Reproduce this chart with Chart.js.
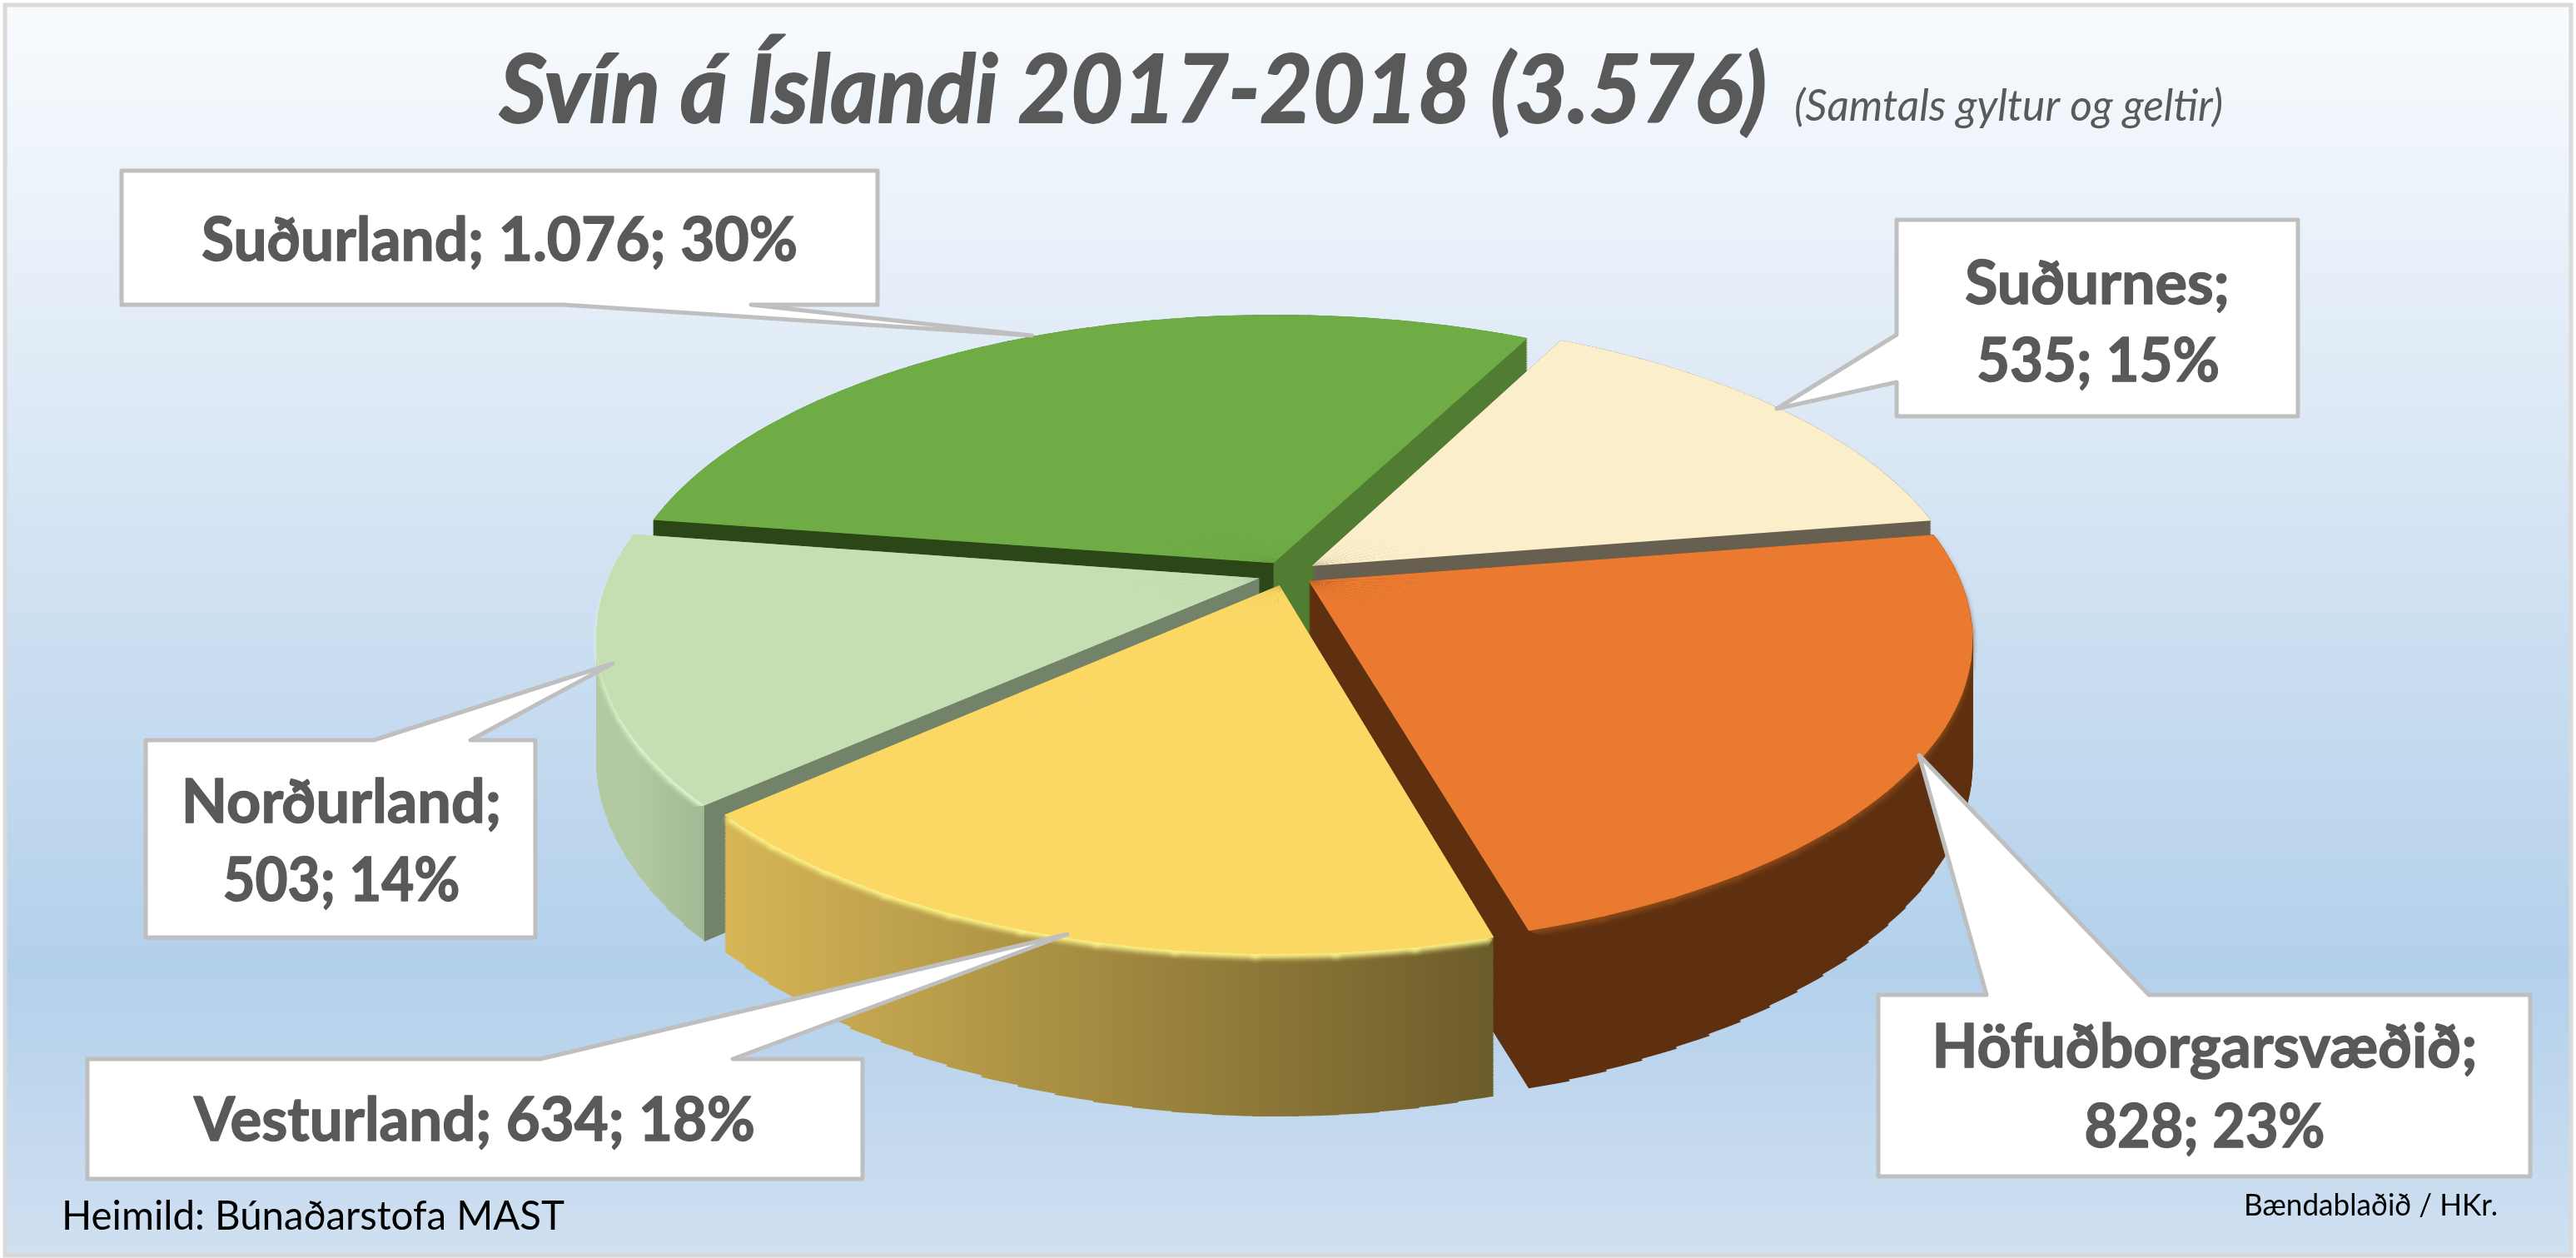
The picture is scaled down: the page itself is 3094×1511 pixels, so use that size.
<!DOCTYPE html>
<html><head><meta charset="utf-8">
<style>
html,body{margin:0;padding:0;background:#fff;width:3094px;height:1511px;overflow:hidden}
#wrap{position:absolute;left:0;top:0;width:3094px;height:1511px}
canvas{position:absolute;left:0;top:0}
</style>
<script src="https://cdn.jsdelivr.net/npm/chart.js@4/dist/chart.umd.min.js"></script>
</head><body>
<div id="wrap"><canvas id="c" width="3094" height="1511"></canvas></div>
<script>
// ---- data ----
const categories = ['Suðurnes','Höfuðborgarsvæðið','Vesturland','Norðurland','Suðurland'];
const values     = [535, 828, 634, 503, 1076];
const percents   = [15, 23, 18, 14, 30];
const explode    = [36, 30, 28, 32, 32];
const titleText  = 'Svín á Íslandi 2017-2018 (3.576)';
const subtitleText = '(Samtals gyltur og geltir)';
const sourceText = 'Heimild: Búnaðarstofa MAST';
const creditText = 'Bændablaðið / HKr.';

// ---- styling ----
const faceColors = ['#FBEECA','#EA7A30','#FBD764','#C5DEB2','#6FAC46'];
const wallStops  = [['#676050','#676050'],['#5F3010','#5F3010'],['#D6B656','#6C5C2A'],['#B2C9A2','#A2BA93'],['#507D31','#507D31']];
const cutFace    = [null,null,null,'#72836A','#2B4718'];
const rimColors  = [null,'#8A4A1A','#FFF78C','#E8FCD8',null];
const drawOrder  = [4,0,3,1,2];
const view = {x0:1545,y0:690,a:780,b:357,p:0.182,depthBase:150,depthFront:45,rotation:27,faceStepDeg:6,wallStepDeg:3};

const callouts = [
 {box:[2278,264,2760,500],side:'left',notch:[402,459],tip:[2134,491],lines:[[2519,365,322],[2520,458,292]],split:true},
 {box:[2256,1195,3039,1413],side:'top',notch:[2386,2581],tip:[2305,907],lines:[[2648,1282,655],[2648,1378,289]],split:true},
 {box:[105,1272,1036,1416],side:'top',notch:[649,880],tip:[1282,1122],lines:[[570,1370,674]],split:false},
 {box:[175,889,643,1126],side:'top',notch:[449,565],tip:[736,797],lines:[[410,988,386],[410,1082,285]],split:true},
 {box:[146,205,1054,366],side:'bottom',notch:[677,902],tip:[1239,403],lines:[[600,313,716]],split:false}
];

function project(u,v){
  const w = 1 - view.p*v;
  return [view.x0 + view.a*u/w, view.y0 + view.b*v/w];
}
function depthAt(angle){
  const v=Math.max(0,Math.sin(angle));
  return view.depthBase + view.depthFront*v*v*v;
}
function fmt(n){ return String(n).replace(/\B(?=(\d{3})+(?!\d))/g,'.'); }

const plainOptions = color => ({backgroundColor:color,offset:0,spacing:0,borderWidth:0,borderColor:'transparent',
    borderAlign:'center',borderRadius:0,circular:true,borderDash:[],borderDashOffset:0,borderJoinStyle:'round'});

// Draws the library's arc element as narrow wedges, each with its own affine
// approximation of the perspective view; f is how far down the wall this layer sits.
function drawSlice(arc,ctx,i,color,f,extraDy){
  const o=arc.options, S=arc.startAngle, E=arc.endAngle, C=arc.circumference, R=arc.outerRadius;
  const m=(S+E)/2, off=explode[i]/R, ou=off*Math.cos(m), ov=off*Math.sin(m);
  const Q0=project(ou,ov);
  const step=(f>0?view.wallStepDeg:view.faceStepDeg)*Math.PI/180, n=Math.ceil((E-S)/step), da=(E-S)/n, pad=0.004;
  arc.options=plainOptions(color);
  for(let k=0;k<n;k++){
    const a1=S+k*da, a2=S+(k+1)*da;
    const Q1=project(ou+Math.cos(a1),ov+Math.sin(a1));
    const Q2=project(ou+Math.cos(a2),ov+Math.sin(a2));
    const ax=R*Math.cos(a1), ay=R*Math.sin(a1), bx=R*Math.cos(a2), by=R*Math.sin(a2);
    const det=ax*by-bx*ay;
    const qax=Q1[0]-Q0[0], qay=Q1[1]-Q0[1], qbx=Q2[0]-Q0[0], qby=Q2[1]-Q0[1];
    const m11=(qax*by-qbx*ay)/det, m12=(qbx*ax-qax*bx)/det;
    const m21=(qay*by-qby*ay)/det, m22=(qby*ax-qay*bx)/det;
    const tx=Q0[0]-m11*arc.x-m12*arc.y, ty=Q0[1]-m21*arc.x-m22*arc.y;
    ctx.save();
    ctx.translate(0,f*depthAt((a1+a2)/2)+(extraDy||0));
    ctx.transform(m11,m21,m12,m22,tx,ty);
    arc.startAngle=k===0?a1:a1-pad;
    arc.endAngle=k===n-1?a2:a2+pad;
    arc.circumference=arc.endAngle-arc.startAngle;
    arc.draw(ctx);
    ctx.restore();
  }
  arc.startAngle=S;arc.endAngle=E;arc.circumference=C;arc.options=o;
}

function sliceGeometry(arc,i){
  const R=arc.outerRadius, s=arc.startAngle, e=arc.endAngle, m=(s+e)/2;
  const off=explode[i]/R, ou=off*Math.cos(m), ov=off*Math.sin(m);
  return {Q0:project(ou,ov),Q1:project(ou+Math.cos(s),ov+Math.sin(s)),Q2:project(ou+Math.cos(e),ov+Math.sin(e)),
          depthS:depthAt(s),depthA:depthAt(m),m};
}

function heavyText(ctx,s,x,y,w,extra){
  ctx.fillText(s,x,y,w);
  if(extra){ctx.lineWidth=extra;ctx.lineJoin='round';ctx.strokeStyle=ctx.fillStyle;ctx.strokeText(s,x,y,w);}
}

const piePlugin = {
  id:'pie3d',
  beforeDraw(chart){
    const ctx=chart.ctx, W=chart.width, H=chart.height;
    const g=ctx.createLinearGradient(0,9,0,1506);
    g.addColorStop(0,'#F8FBFE');
    g.addColorStop(0.3,'#DFEAF6');
    g.addColorStop(0.77,'#B3D0EB');
    g.addColorStop(1,'#D0E0F1');
    ctx.save();
    ctx.fillStyle='#fff';ctx.fillRect(0,0,W,H);
    ctx.fillStyle=g;ctx.fillRect(6,6,W-12,H-11);
    ctx.strokeStyle='#D9D9D9';ctx.lineWidth=5;ctx.strokeRect(6,6,W-12,H-9);
    ctx.restore();
  },
  beforeDatasetDraw(chart){
    const ctx=chart.ctx, arcs=chart.getDatasetMeta(0).data;
    const tmp=document.createElement('canvas');tmp.width=chart.width;tmp.height=chart.height;
    for(const i of drawOrder){
      const arc=arcs[i], G=sliceGeometry(arc,i);
      const t=tmp.getContext('2d');
      t.setTransform(1,0,0,1,0,0);t.globalCompositeOperation='source-over';t.clearRect(0,0,tmp.width,tmp.height);
      for(let f=1;f>0;f-=0.0125) drawSlice(arc,t,i,'#000',f);
      t.globalCompositeOperation='source-in';
      const x1=Math.min(G.Q1[0],G.Q2[0]), x2=Math.max(G.Q1[0],G.Q2[0]);
      const gr=t.createLinearGradient(x1,0,x2,0);
      gr.addColorStop(0,wallStops[i][0]);gr.addColorStop(1,wallStops[i][1]);
      t.fillStyle=gr;t.fillRect(0,0,tmp.width,tmp.height);
      ctx.drawImage(tmp,0,0);
      if(cutFace[i]){
        ctx.save();ctx.fillStyle=cutFace[i];ctx.beginPath();
        ctx.moveTo(G.Q0[0],G.Q0[1]);ctx.lineTo(G.Q1[0],G.Q1[1]);
        ctx.lineTo(G.Q1[0],G.Q1[1]+G.depthS);ctx.lineTo(G.Q0[0],G.Q0[1]+G.depthA);
        ctx.closePath();ctx.fill();ctx.restore();
      }
      if(rimColors[i]){
        // rim light only on the outer side of the slice's chord, never along its cut edges
        const mx=(G.Q1[0]+G.Q2[0])/2, my=(G.Q1[1]+G.Q2[1])/2;
        const ox=mx-G.Q0[0], oy=my-G.Q0[1], far=3000;
        ctx.save();ctx.beginPath();
        ctx.moveTo(G.Q1[0],G.Q1[1]);ctx.lineTo(G.Q2[0],G.Q2[1]);
        ctx.lineTo(G.Q2[0]+ox*far,G.Q2[1]+oy*far);ctx.lineTo(G.Q1[0]+ox*far,G.Q1[1]+oy*far);
        ctx.closePath();ctx.clip();
        ctx.filter='blur(3px)';drawSlice(arc,ctx,i,rimColors[i],0,5);ctx.restore();
      }
      drawSlice(arc,ctx,i,faceColors[i],0);
    }
    return false;
  },
  afterDraw(chart){
    const ctx=chart.ctx;
    ctx.save();
    ctx.textBaseline='alphabetic';
    ctx.fillStyle='#595959';ctx.textAlign='left';
    ctx.font='italic 700 113px Lato';heavyText(ctx,titleText,600,147,1522,2);
    ctx.font='italic 400 52px Lato';ctx.fillText(subtitleText,2155,145,515);
    callouts.forEach((c,i)=>{
      const [l,t,r,b]=c.box, [n1,n2]=c.notch, [tx,ty]=c.tip;
      ctx.beginPath();ctx.moveTo(l,t);
      if(c.side==='top'){ctx.lineTo(n1,t);ctx.lineTo(tx,ty);ctx.lineTo(n2,t);}
      ctx.lineTo(r,t);ctx.lineTo(r,b);
      if(c.side==='bottom'){ctx.lineTo(n2,b);ctx.lineTo(tx,ty);ctx.lineTo(n1,b);}
      ctx.lineTo(l,b);
      if(c.side==='left'){ctx.lineTo(l,n2);ctx.lineTo(tx,ty);ctx.lineTo(l,n1);}
      ctx.closePath();
      ctx.fillStyle='#fff';ctx.fill();
      ctx.strokeStyle='#BFBFBF';ctx.lineWidth=5;ctx.lineJoin='round';ctx.stroke();
      const a=categories[i]+';', rest=fmt(values[i])+'; '+percents[i]+'%';
      const txt=c.split?[a,rest]:[a+' '+rest];
      ctx.fillStyle='#595959';ctx.textAlign='center';ctx.font='700 72px Lato';
      txt.forEach((s,k)=>heavyText(ctx,s,c.lines[k][0],c.lines[k][1],c.lines[k][2],1.5));
    });
    ctx.fillStyle='#000';ctx.textAlign='left';
    ctx.font='400 48px Lato';ctx.fillText(sourceText,74,1477,604);
    ctx.font='400 36px Lato';ctx.fillText(creditText,2695,1460,305);
    ctx.restore();
  }
};

new Chart(document.getElementById('c').getContext('2d'),{
  type:'pie',
  data:{labels:categories,datasets:[{data:values,backgroundColor:faceColors,borderWidth:0,offset:explode}]},
  options:{
    responsive:false,animation:false,rotation:view.rotation,
    layout:{padding:0},
    plugins:{legend:{display:false},title:{display:false},tooltip:{enabled:false}}
  },
  plugins:[piePlugin]
});
</script>
</body></html>
